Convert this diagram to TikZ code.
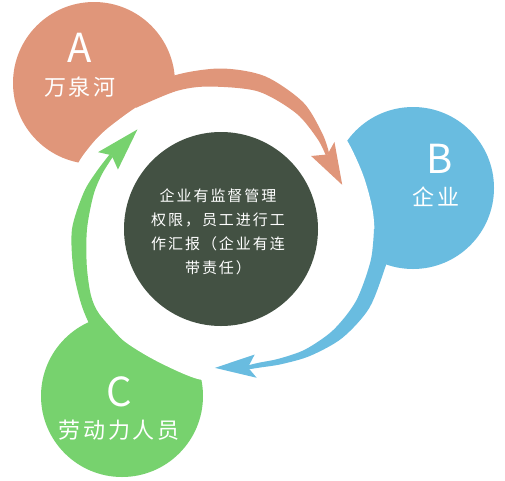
\documentclass[tikz,border=0pt]{standalone}
\usepackage{fontspec}
\setmainfont{Noto Sans CJK SC}
\usepackage{tikz}
\usetikzlibrary{calc}

\definecolor{clrA}{HTML}{E0967A}
\definecolor{clrB}{HTML}{69BCE0}
\definecolor{clrC}{HTML}{77D26E}
\definecolor{clrHub}{HTML}{435143}

\begin{document}
\begin{tikzpicture}[
    x=1pt, y=1pt,
    % --- BASE STYLES ---
    petal/.style={circle, minimum size=162pt, inner sep=0pt, draw=none},
    hub/.style={circle, minimum size=194pt, inner sep=0pt, fill=clrHub},
    hubtext/.style={text=white, align=center, inner sep=0pt,
                font=\fontsize{15}{24}\selectfont\addfontfeature{LetterSpace=13}},
    letter/.style={text=white, inner sep=0pt, font=\fontsize{40}{40}\selectfont},
    tag/.style={text=white, inner sep=0pt, font=\fontsize{22}{22}\selectfont\addfontfeature{LetterSpace=12}},
    % --- ZONE COLOURS ---
    petalA/.style={petal, fill=clrA},
    petalB/.style={petal, fill=clrB},
    petalC/.style={petal, fill=clrC}
]
\useasboundingbox (0,0) rectangle (505,-480);

% ==========================================
% PETALS (A / B / C)
% ==========================================
\coordinate (o) at (221,-229);
\node[petalA] (a) at (94,-83) {};
\node[petalB] (b) at (413,-188) {};
\node[petalC] (c) at (122,-396) {};

% white cut round the hub
\begin{scope}[shift={(o)}]
\fill[white] plot[smooth cycle] coordinates {(175:150) (160:156) (154:157) (145:154) (137:151)
    (122:148) (108:145) (95:143) (80:143) (60:148) (45:153) (35:154) (20:152) (5:153)
    (-10:154) (-30:153) (-50:150) (-70:148) (-85:150) (-98:152) (-115:147) (-130:148)
    (-142:149) (-155:146) (-170:146)};

% ==========================================
% ARROWS (A -> B -> C -> A)
% ==========================================
% A to B
\fill[clrA] plot[smooth] coordinates {(125:162) (107:160.5) (90:160.5) (74:159) (57:151) (43:139) (35:132)}
    -- plot[smooth] coordinates {(35:128) (43:132) (57:138) (75:142.5) (95:143) (108:145) (125:148)} -- cycle;
\fill[clrA] (20:129) -- (39:116) -- (35:130) -- (37.5:143) -- cycle;

% B to C
\fill[clrB] plot[smooth] coordinates {(0:176) (-12:169) (-28:168) (-42:163) (-55:155) (-66:148) (-74:144) (-79:143)}
    -- plot[smooth] coordinates {(-79:139) (-74:139) (-66:142) (-55:147) (-42:151) (-28:153) (-12:153) (0:153)} -- cycle;
\fill[clrB] (-92.5:139) -- (-75:130) -- (-79:141) -- (-76.5:153) -- cycle;

% C to A
\fill[clrC] plot[smooth] coordinates {(228:172) (215:162) (207:158) (195:153) (180:149) (165:142) (155:137) (146:134)}
    -- plot[smooth] coordinates {(146:130) (155:131) (165:132) (180:134) (195:139) (207:146) (215:148.5) (228:148.5)} -- cycle;
\fill[clrC] (130:130) -- (150:119) -- (146:132) -- (148:145) -- cycle;
\end{scope}

% ==========================================
% HUB
% ==========================================
\node[hub] (hub) at (o) {};
\node[hubtext] (hub_text) at ($(hub)+(-3,-3)$) {企业有监督管理\\权限，员工进行工\\作汇报（企业有连\\带责任）};

% ==========================================
% LABELS
% ==========================================
\node[letter] (a_letter) at (80,-47.5) {A};
\node[tag] (a_tag) at (80,-87) {万泉河};
\node[letter] (b_letter) at (439.5,-159) {B};
\node[tag] (b_tag) at (436,-197) {企业};
\node[letter] (c_letter) at (119.5,-391.5) {C};
\node[tag] (c_tag) at (119,-430) {劳动力人员};

\end{tikzpicture}
\end{document}
